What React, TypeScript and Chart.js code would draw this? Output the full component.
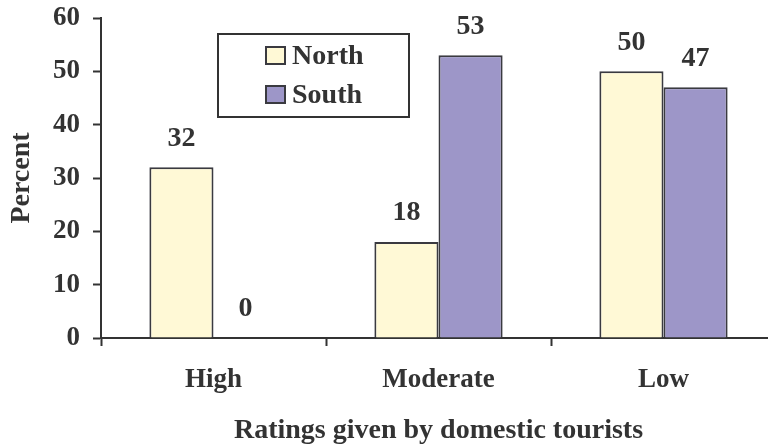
import React, { useEffect, useRef } from "react";
import { Chart, registerables } from "chart.js";

Chart.register(...registerables);

const categories = ["High", "Moderate", "Low"];
const northValues = [32, 18, 50];
const southValues = [0, 53, 47];
const seriesNames = ["North", "South"];
const yTicks = [0, 10, 20, 30, 40, 50, 60];

const FONT = "'Liberation Serif', 'Times New Roman', serif";
const INK = "#333333";
const NORTH_COLOR = "#FFF9D6";
const SOUTH_COLOR = "#9D96C8";
const BORDER = "#3a3a40";

const valueLabels = {
  id: "valueLabels",
  afterDatasetsDraw(chart: any) {
    const ctx = chart.ctx;
    ctx.save();
    ctx.font = `bold 28px ${FONT}`;
    ctx.fillStyle = INK;
    ctx.textAlign = "center";
    ctx.textBaseline = "middle";
    chart.data.datasets.forEach((ds: any, i: number) => {
      const meta = chart.getDatasetMeta(i);
      meta.data.forEach((el: any, j: number) => {
        ctx.fillText(String(ds.data[j]), el.x, el.y - 29);
      });
    });
    ctx.restore();
  },
};

const boxLegend = {
  id: "boxLegend",
  afterDraw(chart: any) {
    const ctx = chart.ctx;
    ctx.save();
    ctx.fillStyle = "#ffffff";
    ctx.fillRect(218, 34, 191, 83);
    ctx.strokeStyle = INK;
    ctx.lineWidth = 2;
    ctx.strokeRect(218, 34, 191, 83);
    const rows = [
      { y: 56, color: NORTH_COLOR },
      { y: 95, color: SOUTH_COLOR },
    ];
    rows.forEach((r, i) => {
      ctx.fillStyle = r.color;
      ctx.fillRect(266, r.y - 9, 19, 17);
      ctx.strokeStyle = BORDER;
      ctx.lineWidth = 2;
      ctx.strokeRect(266, r.y - 9, 19, 17);
      ctx.fillStyle = INK;
      ctx.font = `bold 28px ${FONT}`;
      ctx.textAlign = "left";
      ctx.textBaseline = "middle";
      ctx.fillText(seriesNames[i], 292, r.y + 1);
    });
    ctx.restore();
  },
};

export default function App() {
  const ref = useRef<HTMLCanvasElement | null>(null);

  useEffect(() => {
    if (!ref.current) return;
    const chart = new Chart(ref.current, {
      type: "bar",
      data: {
        labels: categories,
        datasets: [
          {
            label: seriesNames[0],
            data: northValues,
            backgroundColor: NORTH_COLOR,
            borderColor: BORDER,
            borderWidth: 2,
            borderSkipped: "bottom",
            categoryPercentage: 0.57,
            barPercentage: 1.0,
          },
          {
            label: seriesNames[1],
            data: southValues,
            backgroundColor: SOUTH_COLOR,
            borderColor: BORDER,
            borderWidth: 2,
            borderSkipped: "bottom",
            categoryPercentage: 0.57,
            barPercentage: 1.0,
          },
        ],
      },
      options: {
        responsive: false,
        animation: false,
        devicePixelRatio: 1,
        layout: { padding: { top: 18, left: 0, right: 0, bottom: 0 } },
        plugins: {
          legend: { display: false },
          tooltip: { enabled: false },
        },
        scales: {
          x: {
            grid: {
              offset: true,
              drawOnChartArea: false,
              drawTicks: true,
              tickLength: 8,
              tickColor: INK,
              tickWidth: 2,
            },
            border: { color: INK, width: 2 },
            ticks: {
              color: INK,
              font: { family: FONT, size: 27, weight: "bold" },
              padding: 18,
              maxRotation: 0,
            },
            title: {
              display: true,
              text: "Ratings given by domestic tourists",
              color: INK,
              font: { family: FONT, size: 28, weight: "bold" },
              padding: { top: 0, bottom: 0 },
            },
            afterFit: (s: any) => {
              s.height = 110;
              s.paddingLeft = 0;
              s.paddingRight = 0;
            },
          },
          y: {
            min: 0,
            max: 60,
            afterBuildTicks: (s: any) => {
              s.ticks = yTicks.map((v) => ({ value: v }));
            },
            grid: {
              drawOnChartArea: false,
              drawTicks: true,
              tickLength: 8,
              tickColor: INK,
              tickWidth: 2,
            },
            border: { color: INK, width: 2 },
            ticks: {
              color: INK,
              font: { family: FONT, size: 27, weight: "bold" },
              padding: 13,
            },
            title: {
              display: true,
              text: "Percent",
              color: INK,
              font: { family: FONT, size: 28, weight: "bold" },
              padding: { top: 5, bottom: 0 },
            },
            afterFit: (s: any) => {
              s.width = 101;
              s.paddingTop = 0;
              s.paddingBottom = 0;
            },
          },
        },
      },
      plugins: [valueLabels, boxLegend],
    });
    return () => chart.destroy();
  }, []);

  return (
    <div
      style={{
        position: "fixed",
        left: 0,
        top: 0,
        width: 768,
        height: 448,
        overflow: "hidden",
        background: "#ffffff",
      }}
    >
      <canvas ref={ref} width={776} height={448} style={{ display: "block" }} />
    </div>
  );
}
